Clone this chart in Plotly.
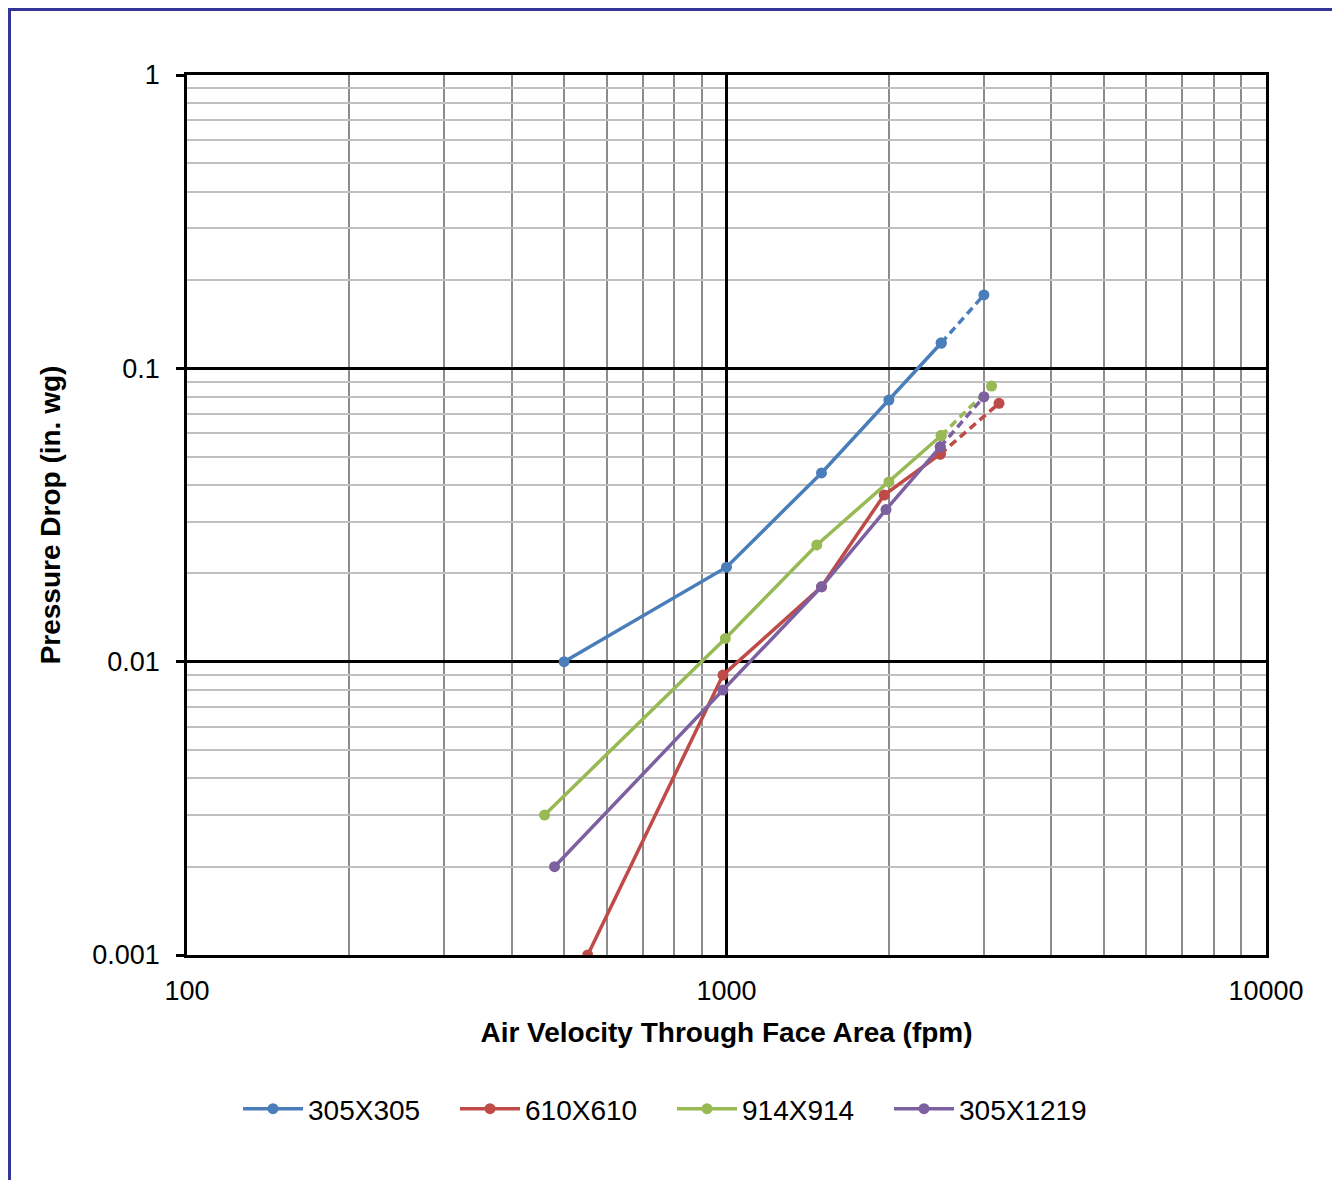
import plotly.graph_objects as go

series_names = ["305X305", "610X610", "914X914", "305X1219"]
colors = ["#4A7EBB", "#BE4B48", "#98B954", "#7D60A0"]

v_305x305 = [500, 1000, 1500, 2000, 2500, 3000]
p_305x305 = [0.010, 0.021, 0.044, 0.078, 0.122, 0.178]

v_610x610 = [553, 985, 1500, 1960, 2490, 3200]
p_610x610 = [0.001, 0.009, 0.018, 0.037, 0.051, 0.076]

v_914x914 = [460, 995, 1470, 2000, 2500, 3100]
p_914x914 = [0.003, 0.012, 0.025, 0.041, 0.059, 0.087]

v_305x1219 = [480, 985, 1500, 1975, 2490, 3000]
p_305x1219 = [0.002, 0.008, 0.018, 0.033, 0.054, 0.080]

xs = [v_305x305, v_610x610, v_914x914, v_305x1219]
ys = [p_305x305, p_610x610, p_914x914, p_305x1219]

x_tickvals = [100, 1000, 10000]
x_ticktext = ["100", "1000", "10000"]
y_tickvals = [0.001, 0.01, 0.1, 1]
y_ticktext = ["0.001", "0.01", "0.1", "1"]
x_minor = [200, 300, 400, 500, 600, 700, 800, 900,
           2000, 3000, 4000, 5000, 6000, 7000, 8000, 9000]
y_minor = [0.002, 0.003, 0.004, 0.005, 0.006, 0.007, 0.008, 0.009,
           0.02, 0.03, 0.04, 0.05, 0.06, 0.07, 0.08, 0.09,
           0.2, 0.3, 0.4, 0.5, 0.6, 0.7, 0.8, 0.9]

fig = go.Figure()
for name, c, x, y in zip(series_names, colors, xs, ys):
    fig.add_trace(go.Scatter(
        x=x[:-1], y=y[:-1], name=name, mode="lines+markers",
        line=dict(color=c, width=3.5), marker=dict(color=c, size=11),
        legendgroup=name))
    fig.add_trace(go.Scatter(
        x=x[-2:], y=y[-2:], name=name, mode="lines+markers", showlegend=False,
        line=dict(color=c, width=3.5, dash="8px,5px"), marker=dict(color=c, size=11),
        legendgroup=name))

font = "Liberation Sans, Arial, sans-serif"
fig.update_layout(
    width=1332, height=1172,
    margin=dict(l=179, r=74, t=67, b=225, autoexpand=False),
    paper_bgcolor="white", plot_bgcolor="white",
    font=dict(family=font, size=27, color="black"),
    showlegend=True,
    legend=dict(orientation="h", x=0.4495, xanchor="center", y=-0.175, yanchor="middle",
                font=dict(size=28), itemwidth=60, entrywidth=142, entrywidthmode="pixels",
                bgcolor="rgba(0,0,0,0)"),
    shapes=[dict(type="rect", xref="paper", yref="paper",
                 x0=-0.1645, x1=1.0639, y0=1.0744, y1=-0.3,
                 line=dict(color="#343497", width=3), fillcolor="rgba(0,0,0,0)", layer="below")],
)
fig.update_xaxes(
    type="log", range=[2, 4], tickvals=x_tickvals, ticktext=x_ticktext,
    showline=True, linecolor="black", linewidth=2.5, mirror=True,
    showgrid=True, gridcolor="black", gridwidth=2.5,
    ticks="", ticklen=0, ticklabelstandoff=10,
    minor=dict(tickvals=x_minor, showgrid=True, gridcolor="#8c8c8c", gridwidth=1.5, ticks=""),
    tickfont=dict(size=27),
    title=dict(text="<b>Air Velocity Through Face Area (fpm)</b>", font=dict(size=28), standoff=18),
    zeroline=False, automargin=False,
)
fig.update_yaxes(
    type="log", range=[-3, 0], tickvals=y_tickvals, ticktext=y_ticktext,
    showline=True, linecolor="black", linewidth=2.5, mirror=True,
    showgrid=True, gridcolor="black", gridwidth=2.5,
    ticks="outside", ticklen=8, tickwidth=2.5, tickcolor="black", ticklabelstandoff=11,
    minor=dict(tickvals=y_minor, showgrid=True, gridcolor="#c0c0c0", gridwidth=1.5, ticks=""),
    tickfont=dict(size=27),
    title=dict(text="<b>Pressure Drop (in. wg)</b>", font=dict(size=28), standoff=24),
    zeroline=False, automargin=False,
)
fig.write_html("out.html")
